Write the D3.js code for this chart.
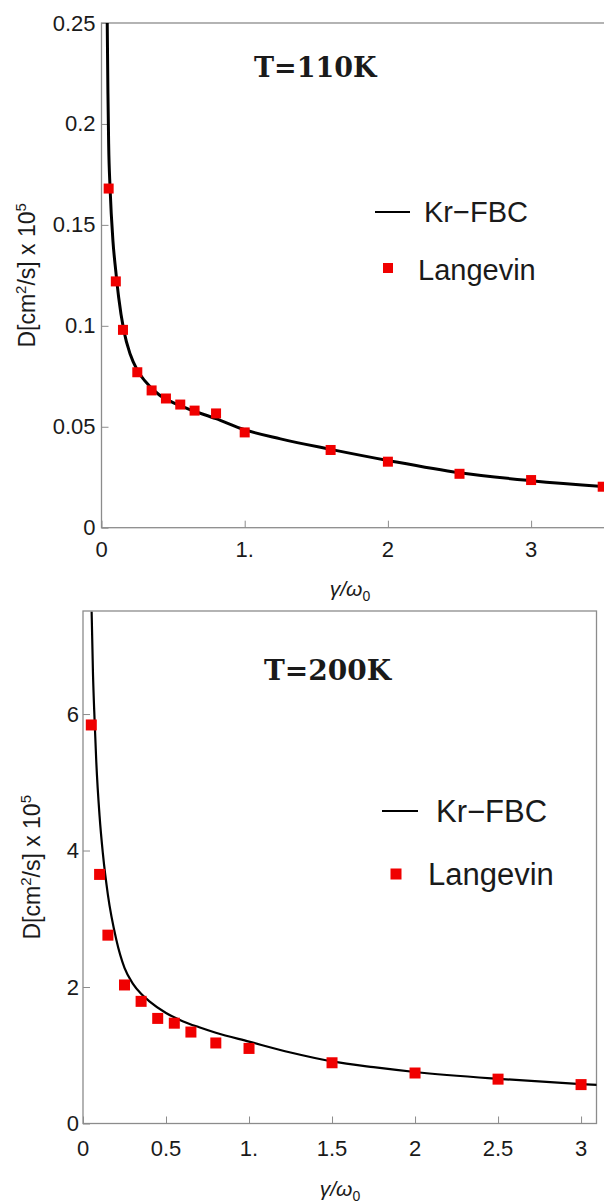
<!DOCTYPE html>
<html>
<head>
<meta charset="utf-8">
<script src="https://cdn.jsdelivr.net/npm/d3@7"></script>
<style>
  body { margin: 0; background: #fff; }
  svg text { font-family: "Liberation Sans", Arial, sans-serif; fill: #1a1a1a; }
  .title { font-family: "DejaVu Serif", serif !important; font-weight: bold; }
</style>
</head>
<body>
<div id="chart"></div>
<script>
// ---- T=110K panel data ----
var topGamma = [0.05, 0.1, 0.15, 0.25, 0.35, 0.45, 0.55, 0.65, 0.8, 1.0, 1.6, 2.0, 2.5, 3.0, 3.5];
var topLangevin = [0.168, 0.122, 0.098, 0.077, 0.068, 0.064, 0.061, 0.058, 0.0566, 0.0472, 0.0385, 0.0327, 0.0267, 0.0236, 0.0203];
var topCurveX = [0.040, 0.045, 0.05, 0.06, 0.08, 0.1, 0.12, 0.155, 0.2, 0.25, 0.3, 0.4, 0.5, 0.6, 0.8, 1.0, 1.25, 1.6, 2.0, 2.5, 3.0, 3.5, 3.6];
var topCurveY = [0.25, 0.215, 0.19, 0.168, 0.142, 0.127, 0.114, 0.098, 0.086, 0.078, 0.073, 0.066, 0.062, 0.059, 0.054, 0.0485, 0.044, 0.0388, 0.0333, 0.0272, 0.0233, 0.0204, 0.0199];
var topXTicks = [0, 1, 2, 3];
var topXLabels = ["0", "1.", "2", "3"];
var topYTicks = [0, 0.05, 0.1, 0.15, 0.2, 0.25];
var topYLabels = ["0", "0.05", "0.1", "0.15", "0.2", "0.25"];

// ---- T=200K panel data ----
var botGamma = [0.05, 0.1, 0.15, 0.25, 0.35, 0.45, 0.55, 0.65, 0.8, 1.0, 1.5, 2.0, 2.5, 3.0];
var botLangevin = [5.84, 3.65, 2.76, 2.03, 1.79, 1.54, 1.47, 1.34, 1.18, 1.10, 0.89, 0.74, 0.65, 0.57];
var botCurveX = [0.052, 0.06, 0.07, 0.08, 0.1, 0.12, 0.15, 0.2, 0.25, 0.3, 0.35, 0.4, 0.5, 0.6, 0.7, 0.8, 1.0, 1.25, 1.5, 1.75, 2.0, 2.5, 3.0, 3.1];
var botCurveY = [7.5, 6.6, 5.9, 5.3, 4.5, 3.95, 3.35, 2.7, 2.28, 2.05, 1.9, 1.79, 1.62, 1.50, 1.41, 1.33, 1.20, 1.04, 0.91, 0.825, 0.755, 0.655, 0.578, 0.565];
var botXTicks = [0, 0.5, 1, 1.5, 2, 2.5, 3];
var botXLabels = ["0", "0.5", "1.", "1.5", "2", "2.5", "3"];
var botYTicks = [0, 2, 4, 6];
var botYLabels = ["0", "2", "4", "6"];

var svg = d3.select("#chart").append("svg")
    .attr("width", 604)
    .attr("height", 1203);

function drawPanel(p) {
    var x = d3.scaleLinear().domain(p.xDomain).range([p.left, p.right]);
    var y = d3.scaleLinear().domain(p.yDomain).range([p.bottom, p.top]);
    var g = svg.append("g");

    // clip for the curve
    g.append("clipPath").attr("id", p.id + "-clip")
        .append("rect")
        .attr("x", p.left).attr("y", p.top)
        .attr("width", p.right - p.left).attr("height", p.bottom - p.top);

    // frame
    g.append("rect")
        .attr("x", p.left).attr("y", p.top)
        .attr("width", p.right - p.left).attr("height", p.bottom - p.top)
        .attr("fill", "none").attr("stroke", "#8c8c8c").attr("stroke-width", 1.3);

    // axes (ticks inward, labels outside)
    var xAxis = d3.axisTop(x).tickValues(p.xTicks).tickSize(7).tickFormat("");
    g.append("g").attr("transform", `translate(0,${p.bottom})`).call(xAxis)
        .call(a => a.select(".domain").remove())
        .selectAll("line").attr("stroke", "#8c8c8c");
    var yAxis = d3.axisRight(y).tickValues(p.yTicks).tickSize(7).tickFormat("");
    g.append("g").attr("transform", `translate(${p.left},0)`).call(yAxis)
        .call(a => a.select(".domain").remove())
        .selectAll("line").attr("stroke", "#8c8c8c");

    g.selectAll(".xl").data(p.xTicks).enter().append("text")
        .attr("x", d => x(d)).attr("y", p.xLabelY)
        .attr("text-anchor", "middle").attr("font-size", 22)
        .text((d, i) => p.xLabels[i]);
    g.selectAll(".yl").data(p.yTicks).enter().append("text")
        .attr("x", p.left - p.yLabelGap).attr("y", d => y(d) + 7.5)
        .attr("text-anchor", "end").attr("font-size", 22)
        .text((d, i) => p.yLabels[i]);

    // curve
    var curve = p.curveX.map((v, i) => [v, p.curveY[i]]);
    g.append("path").datum(curve)
        .attr("clip-path", `url(#${p.id}-clip)`)
        .attr("fill", "none").attr("stroke", "#000").attr("stroke-width", p.lineWidth)
        .attr("d", d3.line().x(d => x(d[0])).y(d => y(d[1])).curve(d3.curveMonotoneX));

    // Langevin markers
    var ms = p.markerSize;
    g.selectAll(".pt").data(p.gamma).enter().append("rect")
        .attr("x", d => x(d) - ms / 2)
        .attr("y", (d, i) => y(p.langevin[i]) - ms / 2)
        .attr("width", ms).attr("height", ms)
        .attr("fill", "#f00000");

    // panel title
    g.append("text").attr("class", "title")
        .attr("x", p.titleX).attr("y", p.titleY)
        .attr("font-size", p.titleSize)
        .text(p.title);

    // legend
    var L = p.legend;
    g.append("line").attr("x1", L.lineX1).attr("x2", L.lineX2)
        .attr("y1", L.lineY).attr("y2", L.lineY)
        .attr("stroke", "#000").attr("stroke-width", 2.2);
    g.append("text").attr("x", L.text1X).attr("y", L.text1Y)
        .attr("font-size", L.size).text("Kr\u2212FBC");
    g.append("rect").attr("x", L.markX - ms / 2).attr("y", L.markY - ms / 2)
        .attr("width", ms).attr("height", ms).attr("fill", "#f00000");
    g.append("text").attr("x", L.text2X).attr("y", L.text2Y)
        .attr("font-size", L.size).text("Langevin");

    // axis titles
    var xt = g.append("text").attr("x", p.xTitleX).attr("y", p.xTitleY)
        .attr("text-anchor", "middle").attr("font-size", 21);
    xt.append("tspan").attr("font-style", "italic").text("\u03b3/\u03c9");
    xt.append("tspan").attr("font-size", 14).attr("dy", 5).text("0");

    var yt = g.append("text")
        .attr("transform", `translate(${p.yTitleX},${(p.top + p.bottom) / 2}) rotate(-90)`)
        .attr("text-anchor", "middle").attr("font-size", 23);
    yt.append("tspan").text("D[cm");
    yt.append("tspan").attr("font-size", 15).attr("dy", -9).text("2");
    yt.append("tspan").attr("dy", 9).text("/s] x 10");
    yt.append("tspan").attr("font-size", 15).attr("dy", -9).text("5");
}

drawPanel({
    id: "top", left: 101.5, right: 101.5 + 143.2 * 3.6, top: 23, bottom: 527.7,
    xDomain: [0, 3.6], yDomain: [0, 0.25],
    xTicks: topXTicks, xLabels: topXLabels, yTicks: topYTicks, yLabels: topYLabels,
    gamma: topGamma, langevin: topLangevin, curveX: topCurveX, curveY: topCurveY,
    lineWidth: 3, markerSize: 10, xLabelY: 557, yLabelGap: 6,
    title: "T=110K", titleX: 254, titleY: 77, titleSize: 27,
    legend: { lineX1: 375, lineX2: 410, lineY: 212, text1X: 424, text1Y: 222,
              markX: 388, markY: 268, text2X: 418, text2Y: 280, size: 29 },
    xTitleX: 350, xTitleY: 596, yTitleX: 35
});

drawPanel({
    id: "bot", left: 83, right: 596.5, top: 611, bottom: 1123.5,
    xDomain: [0, 3.093], yDomain: [0, 7.51],
    xTicks: botXTicks, xLabels: botXLabels, yTicks: botYTicks, yLabels: botYLabels,
    gamma: botGamma, langevin: botLangevin, curveX: botCurveX, curveY: botCurveY,
    lineWidth: 2.2, markerSize: 11, xLabelY: 1156, yLabelGap: 4,
    title: "T=200K", titleX: 264, titleY: 680, titleSize: 28,
    legend: { lineX1: 382, lineX2: 418, lineY: 811, text1X: 436, text1Y: 822,
              markX: 396, markY: 874, text2X: 428, text2Y: 885, size: 31 },
    xTitleX: 340, xTitleY: 1196, yTitleX: 40
});
</script>
</body>
</html>
